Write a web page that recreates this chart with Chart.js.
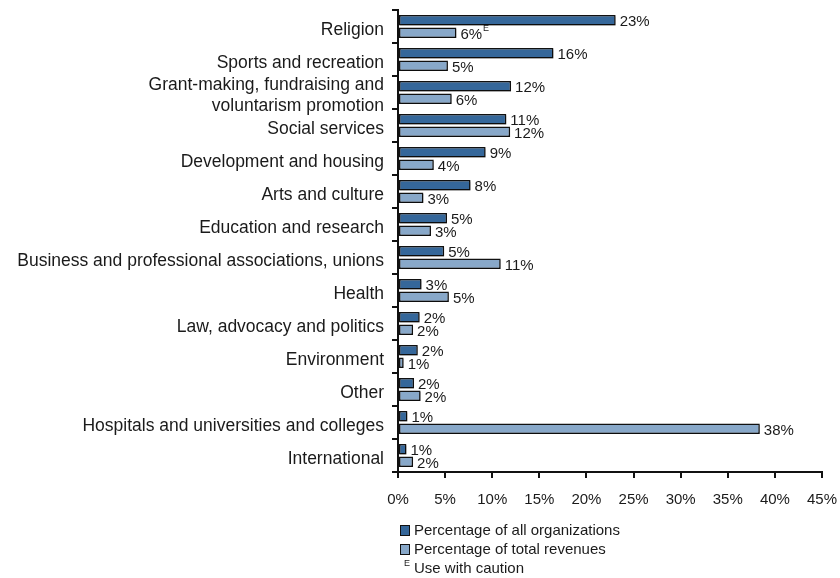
<!DOCTYPE html>
<html><head><meta charset="utf-8">
<script src="https://cdn.jsdelivr.net/npm/chart.js@4/dist/chart.umd.min.js"></script>
<style>html,body{margin:0;padding:0;background:#fff}#w{width:840px;height:578px}</style>
</head><body><div id="w"><canvas id="c"></canvas></div>
<script>
const categories = [
  "Religion","Sports and recreation",["Grant-making, fundraising and","voluntarism promotion"],
  "Social services","Development and housing","Arts and culture","Education and research",
  "Business and professional associations, unions","Health","Law, advocacy and politics",
  "Environment","Other","Hospitals and universities and colleges","International"
];
const orgValues = [23.1,16.5,12.0,11.5,9.3,7.7,5.2,4.9,2.5,2.3,2.1,1.7,1.0,0.9];
const orgLabels = ["23%","16%","12%","11%","9%","8%","5%","5%","3%","2%","2%","2%","1%","1%"];
const revValues = [6.2,5.3,5.7,11.9,3.8,2.7,3.5,10.9,5.4,1.6,0.6,2.4,38.4,1.6];
const revLabels = ["6%","5%","6%","12%","4%","3%","3%","11%","5%","2%","1%","2%","38%","2%"];
const revFlags = ["E","","","","","","","","","","","","",""];
const xTicks = [0,5,10,15,20,25,30,35,40,45];
const seriesNames = ["Percentage of all organizations","Percentage of total revenues"];
const noteText = "Use with caution";

const DARK = "#35679a", LIGHT = "#88a8c9", TXT = "#1a1a1a";
const FONT = "'Liberation Sans', Arial, sans-serif";

const shadowPlugin = {
  id: "shadow",
  beforeDatasetsDraw(chart) {
    const ctx = chart.ctx;
    ctx.save();
    ctx.shadowColor = "rgba(0,0,0,0.28)";
    ctx.shadowOffsetX = 1;
    ctx.shadowOffsetY = 1.5;
    ctx.shadowBlur = 0;
  },
  afterDatasetsDraw(chart) { chart.ctx.restore(); }
};

const labelPlugin = {
  id: "labels",
  afterDatasetsDraw(chart) {
    const ctx = chart.ctx;
    ctx.save();
    ctx.shadowColor = "transparent";
    ctx.fillStyle = TXT;
    ctx.textBaseline = "middle";
    ctx.textAlign = "left";
    [orgLabels, revLabels].forEach((labs, di) => {
      const meta = chart.getDatasetMeta(di);
      meta.data.forEach((bar, i) => {
        ctx.font = "15px " + FONT;
        const x = bar.x + 4, y = bar.y + 2;
        ctx.fillText(labs[i], x, y);
        if (di === 1 && revFlags[i]) {
          const w = ctx.measureText(labs[i]).width;
          ctx.font = "9px " + FONT;
          ctx.fillText(revFlags[i], x + w + 1, y - 6);
        }
      });
    });
    // legend
    const lx = chart.chartArea.left + 2;
    const rows = [530, 549];
    [DARK, LIGHT].forEach((col, k) => {
      ctx.fillStyle = col;
      ctx.fillRect(lx, rows[k] - 5, 9, 10);
      ctx.strokeStyle = "#111";
      ctx.lineWidth = 1;
      ctx.strokeRect(lx + 0.5, rows[k] - 4.5, 9, 10);
      ctx.fillStyle = TXT;
      ctx.font = "15px " + FONT;
      ctx.fillText(seriesNames[k], lx + 14, rows[k] + 1);
    });
    ctx.font = "9px " + FONT;
    ctx.fillText("E", lx + 4, 564);
    ctx.font = "15px " + FONT;
    ctx.fillText(noteText, lx + 14, 569);
    ctx.restore();
  }
};

new Chart(document.getElementById("c"), {
  type: "bar",
  data: {
    labels: categories,
    datasets: [
      { label: seriesNames[0], data: orgValues, backgroundColor: DARK, borderColor: "#111", borderWidth: 1.5, borderSkipped: false },
      { label: seriesNames[1], data: revValues, backgroundColor: LIGHT, borderColor: "#111", borderWidth: 1.5, borderSkipped: false }
    ]
  },
  options: {
    indexAxis: "y",
    responsive: true,
    maintainAspectRatio: false,
    animation: false,
    events: [],
    layout: { padding: { top: 10, right: 18, left: 0, bottom: 66 } },
    datasets: { bar: { categoryPercentage: 0.75, barPercentage: 0.85 } },
    plugins: { legend: { display: false }, tooltip: { enabled: false } },
    scales: {
      x: {
        min: 0, max: 45,
        afterBuildTicks(s) { s.ticks = xTicks.map(v => ({ value: v })); },
        grid: { drawOnChartArea: false, drawTicks: true, tickLength: 6, color: "#111", lineWidth: 2 },
        border: { display: true, color: "#111", width: 2 },
        ticks: { padding: 13, color: TXT, font: { family: FONT, size: 15 }, callback: v => v + "%", maxRotation: 0, autoSkip: false },
        afterFit(s) { s.height = 40; s.paddingLeft = 0; s.paddingRight = 0; }
      },
      y: {
        grid: { offset: true, drawOnChartArea: false, drawTicks: true, tickLength: 6, color: "#111", lineWidth: 2 },
        border: { display: true, color: "#111", width: 2 },
        ticks: { padding: 8, labelOffset: 3.5, color: TXT, font: { family: FONT, size: 17.5, lineHeight: 1.2 }, autoSkip: false },
        afterFit(s) { s.width = 398; s.paddingTop = 0; s.paddingBottom = 0; }
      }
    }
  },
  plugins: [shadowPlugin, labelPlugin]
});
</script></body></html>
